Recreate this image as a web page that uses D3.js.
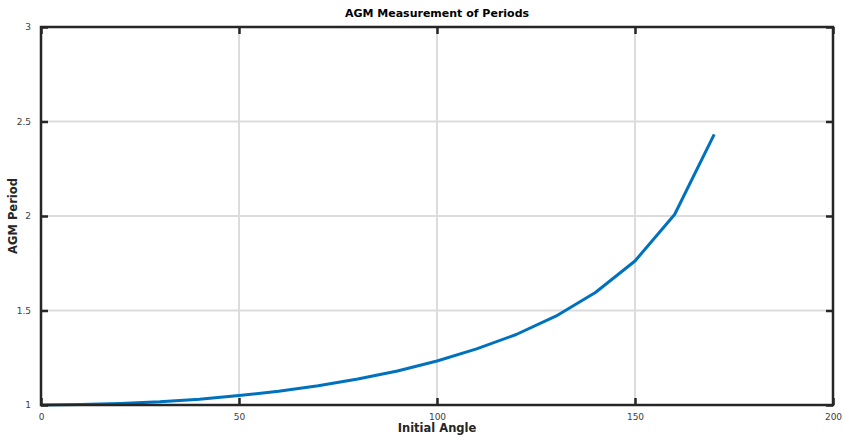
<!DOCTYPE html>
<html>
<head>
<meta charset="utf-8">
<script src="https://cdn.jsdelivr.net/npm/d3@7"></script>
<style>
  body { margin: 0; background: #fff; }
  text { font-family: "DejaVu Sans", sans-serif; }
</style>
</head>
<body>
<svg id="chart" width="844" height="435"></svg>
<script>
// initial angle (degrees) and measured AGM period
var angles = [0, 10, 20, 30, 40, 50, 60, 70, 80, 90, 100, 110, 120, 130, 140, 150, 160, 170];
var periods = [1.000, 1.002, 1.008, 1.017, 1.031, 1.050, 1.073, 1.102, 1.138, 1.180,
               1.233, 1.297, 1.373, 1.470, 1.595, 1.762, 2.008, 2.432];
var xTicks = [0, 50, 100, 150, 200];
var yTicks = [1, 1.5, 2, 2.5, 3];

var svg = d3.select("#chart");
// note: "top" is taken by window.top, so use plot* names
var plotL = 41, plotR = 833, plotT = 27, plotB = 405;

var x = d3.scaleLinear().domain([0, 200]).range([plotL, plotR]);
var y = d3.scaleLinear().domain([1, 3]).range([plotB, plotT]);

// grid
svg.append("g").selectAll("line").data(xTicks.slice(1, -1)).join("line")
   .attr("x1", d => x(d)).attr("x2", d => x(d))
   .attr("y1", plotT).attr("y2", plotB)
   .attr("stroke", "#dcdcdc").attr("stroke-width", 2);
svg.append("g").selectAll("line").data(yTicks.slice(1, -1)).join("line")
   .attr("x1", plotL).attr("x2", plotR)
   .attr("y1", d => y(d)).attr("y2", d => y(d))
   .attr("stroke", "#dcdcdc").attr("stroke-width", 2);

// data line
var line = d3.line().x((d, i) => x(angles[i])).y(d => y(d));
svg.append("path").datum(periods)
   .attr("d", line)
   .attr("fill", "none")
   .attr("stroke", "#0072BD")
   .attr("stroke-width", 3)
   .attr("stroke-linejoin", "round");

// axes (ticks inward, on all four sides)
var tk = 7;
var bottomAxis = d3.axisBottom(x).tickValues(xTicks).tickSize(-tk).tickPadding(tk + 2).tickFormat(d3.format("d"));
var topAxis = d3.axisTop(x).tickValues(xTicks).tickSize(-tk).tickFormat("");
var leftAxis = d3.axisLeft(y).tickValues(yTicks).tickSize(-tk).tickPadding(tk + 3).tickFormat(d => d);
var rightAxis = d3.axisRight(y).tickValues(yTicks).tickSize(-tk).tickFormat("");

function styleAxis(g) {
  g.select(".domain").remove();
  g.selectAll(".tick line").attr("stroke", "#262626").attr("stroke-width", 2.5);
  g.selectAll(".tick text").attr("fill", "#404040").style("font-size", "9px")
   .style("font-family", "DejaVu Sans, sans-serif");
}

svg.append("g").attr("transform", "translate(0," + plotB + ")").call(bottomAxis).call(styleAxis);
svg.append("g").attr("transform", "translate(0," + plotT + ")").call(topAxis).call(styleAxis);
svg.append("g").attr("transform", "translate(" + plotL + ",0)").call(leftAxis).call(styleAxis);
svg.append("g").attr("transform", "translate(" + plotR + ",0)").call(rightAxis).call(styleAxis);

// box
svg.append("rect")
   .attr("x", plotL).attr("y", plotT)
   .attr("width", plotR - plotL).attr("height", plotB - plotT)
   .attr("fill", "none").attr("stroke", "#262626").attr("stroke-width", 2.5);

// labels
svg.append("text").attr("x", (plotL + plotR) / 2).attr("y", 17)
   .attr("text-anchor", "middle").style("font-size", "11px").style("font-weight", "bold")
   .text("AGM Measurement of Periods");
svg.append("text").attr("x", (plotL + plotR) / 2).attr("y", 432)
   .attr("text-anchor", "middle").style("font-size", "11.5px").style("font-weight", "bold")
   .attr("fill", "#262626")
   .text("Initial Angle");
svg.append("text")
   .attr("transform", "translate(17," + ((plotT + plotB) / 2) + ") rotate(-90)")
   .attr("text-anchor", "middle").style("font-size", "11.5px").style("font-weight", "bold")
   .attr("fill", "#262626")
   .text("AGM Period");
</script>
</body>
</html>
